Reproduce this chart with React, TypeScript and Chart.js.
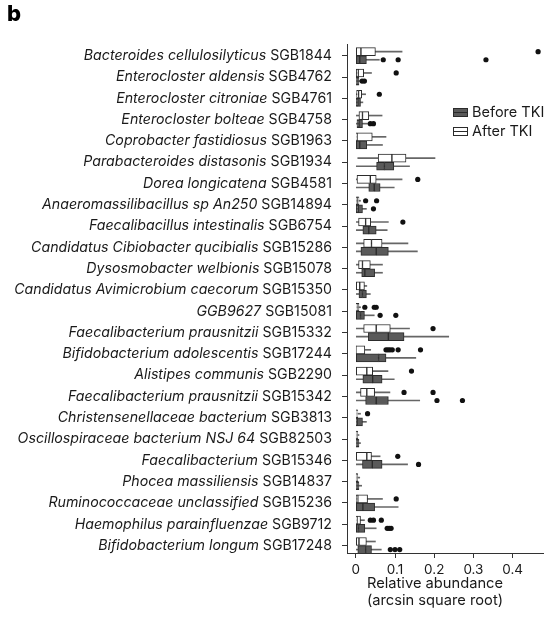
import React, { useEffect, useRef } from 'react';
import { Chart, registerables } from 'chart.js';

Chart.register(...registerables);

// ---------- data ----------
const speciesNames = [
  'Bacteroides cellulosilyticus',
  'Enterocloster aldensis',
  'Enterocloster citroniae',
  'Enterocloster bolteae',
  'Coprobacter fastidiosus',
  'Parabacteroides distasonis',
  'Dorea longicatena',
  'Anaeromassilibacillus sp An250',
  'Faecalibacillus intestinalis',
  'Candidatus Cibiobacter qucibialis',
  'Dysosmobacter welbionis',
  'Candidatus Avimicrobium caecorum',
  'GGB9627',
  'Faecalibacterium prausnitzii',
  'Bifidobacterium adolescentis',
  'Alistipes communis',
  'Faecalibacterium prausnitzii',
  'Christensenellaceae bacterium',
  'Oscillospiraceae bacterium NSJ 64',
  'Faecalibacterium',
  'Phocea massiliensis',
  'Ruminococcaceae unclassified',
  'Haemophilus parainfluenzae',
  'Bifidobacterium longum',
];
const sgbIds = [
  'SGB1844', 'SGB4762', 'SGB4761', 'SGB4758', 'SGB1963', 'SGB1934', 'SGB4581',
  'SGB14894', 'SGB6754', 'SGB15286', 'SGB15078', 'SGB15350', 'SGB15081',
  'SGB15332', 'SGB17244', 'SGB2290', 'SGB15342', 'SGB3813', 'SGB82503',
  'SGB15346', 'SGB14837', 'SGB15236', 'SGB9712', 'SGB17248',
];

// After TKI (white boxes)
const afterMin = [0, 0, 0, 0, 0, 0.005, 0, 0, 0, 0, 0, 0, 0, 0, 0, 0, 0, 0, 0, 0, 0, 0, 0, 0];
const afterQ1 = [0, 0, 0.002, 0.008, 0, 0.057, 0.003, 0, 0.007, 0.02, 0.007, 0, 0, 0.02, 0, 0, 0.012, 0, 0, 0, 0, 0, 0, 0];
const afterMedian = [0.013, 0.006, 0.007, 0.017, 0.003, 0.092, 0.037, 0.004, 0.025, 0.04, 0.017, 0.01, 0.003, 0.052, 0.001, 0.028, 0.028, 0.002, 0.001, 0.028, 0.001, 0.005, 0.003, 0.008];
const afterQ3 = [0.05, 0.02, 0.015, 0.033, 0.042, 0.128, 0.052, 0.008, 0.038, 0.067, 0.037, 0.022, 0.008, 0.088, 0.023, 0.043, 0.048, 0.005, 0.005, 0.04, 0.005, 0.03, 0.012, 0.027];
const afterMax = [0.118, 0.04, 0.025, 0.067, 0.077, 0.202, 0.118, 0.012, 0.083, 0.133, 0.068, 0.028, 0.012, 0.137, 0.038, 0.082, 0.087, 0.012, 0.008, 0.062, 0.01, 0.068, 0.022, 0.05];
const afterOutliers = [
  [0.465], [0.103], [0.06], [], [], [], [0.158], [0.025, 0.053], [0.12], [], [], [],
  [0.023, 0.047, 0.052], [0.197], [0.077, 0.082, 0.087, 0.093, 0.108, 0.165], [0.142],
  [0.123, 0.197], [0.03], [], [0.107], [], [0.103], [0.037, 0.045, 0.065], [],
];

// Before TKI (dark boxes)
const beforeMin = [0, 0, 0, 0, 0, 0, 0, 0, 0, 0, 0, 0, 0, 0, 0, 0, 0, 0, 0, 0, 0, 0, 0, 0];
const beforeQ1 = [0, 0, 0, 0.003, 0, 0.053, 0.033, 0, 0.018, 0.013, 0.015, 0.008, 0, 0.032, 0, 0.018, 0.025, 0, 0, 0.017, 0, 0, 0, 0.005];
const beforeMedian = [0.01, 0.003, 0.005, 0.008, 0.01, 0.073, 0.047, 0.006, 0.033, 0.052, 0.023, 0.017, 0.012, 0.083, 0.058, 0.043, 0.052, 0.003, 0.003, 0.042, 0.003, 0.018, 0.007, 0.025];
const beforeQ3 = [0.027, 0.008, 0.012, 0.017, 0.028, 0.097, 0.062, 0.017, 0.052, 0.083, 0.048, 0.027, 0.022, 0.123, 0.077, 0.067, 0.083, 0.017, 0.008, 0.067, 0.008, 0.048, 0.023, 0.04];
const beforeMax = [0.06, 0.01, 0.018, 0.03, 0.068, 0.137, 0.098, 0.027, 0.08, 0.157, 0.068, 0.037, 0.047, 0.237, 0.153, 0.098, 0.163, 0.027, 0.012, 0.132, 0.015, 0.108, 0.052, 0.065];
const beforeOutliers = [
  [0.07, 0.108, 0.332], [0.016, 0.022], [], [0.037, 0.045], [], [], [], [0.045], [], [], [], [],
  [0.062, 0.102], [], [], [], [0.207, 0.272], [], [], [0.16], [], [], [0.08, 0.085, 0.09],
  [0.088, 0.1, 0.112],
];

const xTickValues = [0, 0.1, 0.2, 0.3, 0.4];
const legendLabels = ['Before TKI', 'After TKI'];
const xAxisTitle = ['Relative abundance', '(arcsin square root)'];

// ---------- styles ----------
const ROW_OFFSET = 0.19;
const FONT = 'Inter, "Noto Sans", sans-serif';
const BEFORE_FILL = '#5a5a5a';
const AFTER_FILL = '#ffffff';
const EDGE = '#2b2b2b';
const WHISKER = '#666666';
const TEXT = '#1a1a1a';

export default function App() {
  const canvasRef = useRef<HTMLCanvasElement>(null);

  useEffect(() => {
    const canvas = canvasRef.current;
    if (!canvas) return;

    const afterPos = (i: number) => i - ROW_OFFSET;
    const beforePos = (i: number) => i + ROW_OFFSET;

    const segments = (lo: number[], hi: number[], pos: (i: number) => number) =>
      lo.map((v, i) => ({ x: [v, hi[i]], y: pos(i) }));

    const outlierPoints = (list: number[][], pos: (i: number) => number) =>
      list.flatMap((vals, i) => vals.map((v) => ({ x: v, y: pos(i) })));

    const boxStyle = (fill: string) => ({
      type: 'bar' as const,
      backgroundColor: fill,
      borderColor: EDGE,
      borderWidth: 1,
      borderSkipped: false,
      barThickness: 8,
      grouped: false,
      order: 5,
    });
    const whiskerStyle = {
      type: 'bar' as const,
      backgroundColor: WHISKER,
      borderWidth: 0,
      barThickness: 1,
      grouped: false,
      order: 10,
    };

    const labelsPlugin = {
      id: 'speciesLabels',
      afterDraw(chart: any) {
        const ctx = chart.ctx;
        const yScale = chart.scales.y;
        const right = 332;
        ctx.save();
        ctx.fillStyle = TEXT;
        ctx.textBaseline = 'middle';
        ctx.textAlign = 'right';
        speciesNames.forEach((name, i) => {
          const py = yScale.getPixelForValue(i);
          ctx.font = `14.2px ${FONT}`;
          const idW = ctx.measureText(sgbIds[i]).width;
          const spaceW = ctx.measureText(' ').width;
          ctx.fillText(sgbIds[i], right, py);
          ctx.font = `italic 14.2px ${FONT}`;
          ctx.fillText(name, right - idW - spaceW, py);
        });

        // axis title
        ctx.font = `14.7px ${FONT}`;
        ctx.textAlign = 'center';
        xAxisTitle.forEach((line, k) => {
          ctx.fillText(line, 435, 584 + k * 17);
        });

        // legend
        const fills = [BEFORE_FILL, AFTER_FILL];
        ctx.font = `14.5px ${FONT}`;
        ctx.textAlign = 'left';
        legendLabels.forEach((lab, k) => {
          const cy = 113 + k * 19;
          ctx.fillStyle = fills[k];
          ctx.fillRect(453.5, cy - 4.5, 14, 8);
          ctx.strokeStyle = EDGE;
          ctx.lineWidth = 1;
          ctx.strokeRect(453.5, cy - 4.5, 14, 8);
          ctx.beginPath();
          ctx.moveTo(453.5, cy - 0.5);
          ctx.lineTo(467.5, cy - 0.5);
          ctx.stroke();
          ctx.fillStyle = TEXT;
          ctx.fillText(lab, 472, cy);
        });
        ctx.restore();
      },
    };

    const chart = new Chart(canvas, {
      type: 'bar',
      data: {
        datasets: [
          { ...whiskerStyle, data: segments(afterMin, afterMax, afterPos) } as any,
          { ...whiskerStyle, data: segments(beforeMin, beforeMax, beforePos) } as any,
          { ...boxStyle(AFTER_FILL), data: segments(afterQ1, afterMedian, afterPos) } as any,
          { ...boxStyle(AFTER_FILL), data: segments(afterMedian, afterQ3, afterPos) } as any,
          { ...boxStyle(BEFORE_FILL), data: segments(beforeQ1, beforeMedian, beforePos) } as any,
          { ...boxStyle(BEFORE_FILL), data: segments(beforeMedian, beforeQ3, beforePos) } as any,
          {
            type: 'scatter',
            data: [...outlierPoints(afterOutliers, afterPos), ...outlierPoints(beforeOutliers, beforePos)],
            backgroundColor: '#111111',
            borderWidth: 0,
            pointRadius: 2.6,
            order: 1,
          } as any,
        ],
      },
      options: {
        indexAxis: 'y',
        responsive: false,
        animation: false,
        events: [],
        layout: { padding: { top: 44, left: 0, right: 0, bottom: 0 } },
        plugins: { legend: { display: false }, tooltip: { enabled: false } },
        scales: {
          x: {
            type: 'linear',
            position: 'bottom',
            offset: false,
            min: -0.0225,
            max: 0.4775,
            afterBuildTicks: (s: any) => {
              s.ticks = xTickValues.map((v) => ({ value: v }));
            },
            afterFit: (s: any) => {
              s.height = 64;
            },
            grid: { drawOnChartArea: false, drawTicks: true, tickLength: 5, color: '#333', offset: false },
            border: { display: true, color: '#333', width: 1 },
            ticks: {
              color: TEXT,
              font: { family: FONT, size: 13.5 },
              padding: 4,
              maxRotation: 0,
              callback: (v: any) => (v === 0 ? '0' : Number(v).toFixed(1)),
            },
          },
          y: {
            type: 'linear',
            position: 'left',
            reverse: true,
            offset: false,
            min: -0.55,
            max: 23.35,
            afterBuildTicks: (s: any) => {
              s.ticks = speciesNames.map((_, i) => ({ value: i }));
            },
            afterFit: (s: any) => {
              s.width = 347;
            },
            grid: { drawOnChartArea: false, drawTicks: true, tickLength: 5, color: '#333', offset: false },
            border: { display: true, color: '#333', width: 1 },
            ticks: { display: false },
          },
        },
      },
      plugins: [labelsPlugin],
    });

    return () => chart.destroy();
  }, []);

  return (
    <div style={{ position: 'absolute', left: 0, top: 0, width: 547, height: 617, background: '#fff' }}>
      <canvas ref={canvasRef} width={547} height={617} style={{ display: 'block' }} />
      <div
        style={{
          position: 'absolute',
          left: 7,
          top: 0,
          fontFamily: FONT,
          fontWeight: 800,
          fontSize: 22,
          lineHeight: '26px',
          color: '#000',
        }}
      >
        b
      </div>
    </div>
  );
}
